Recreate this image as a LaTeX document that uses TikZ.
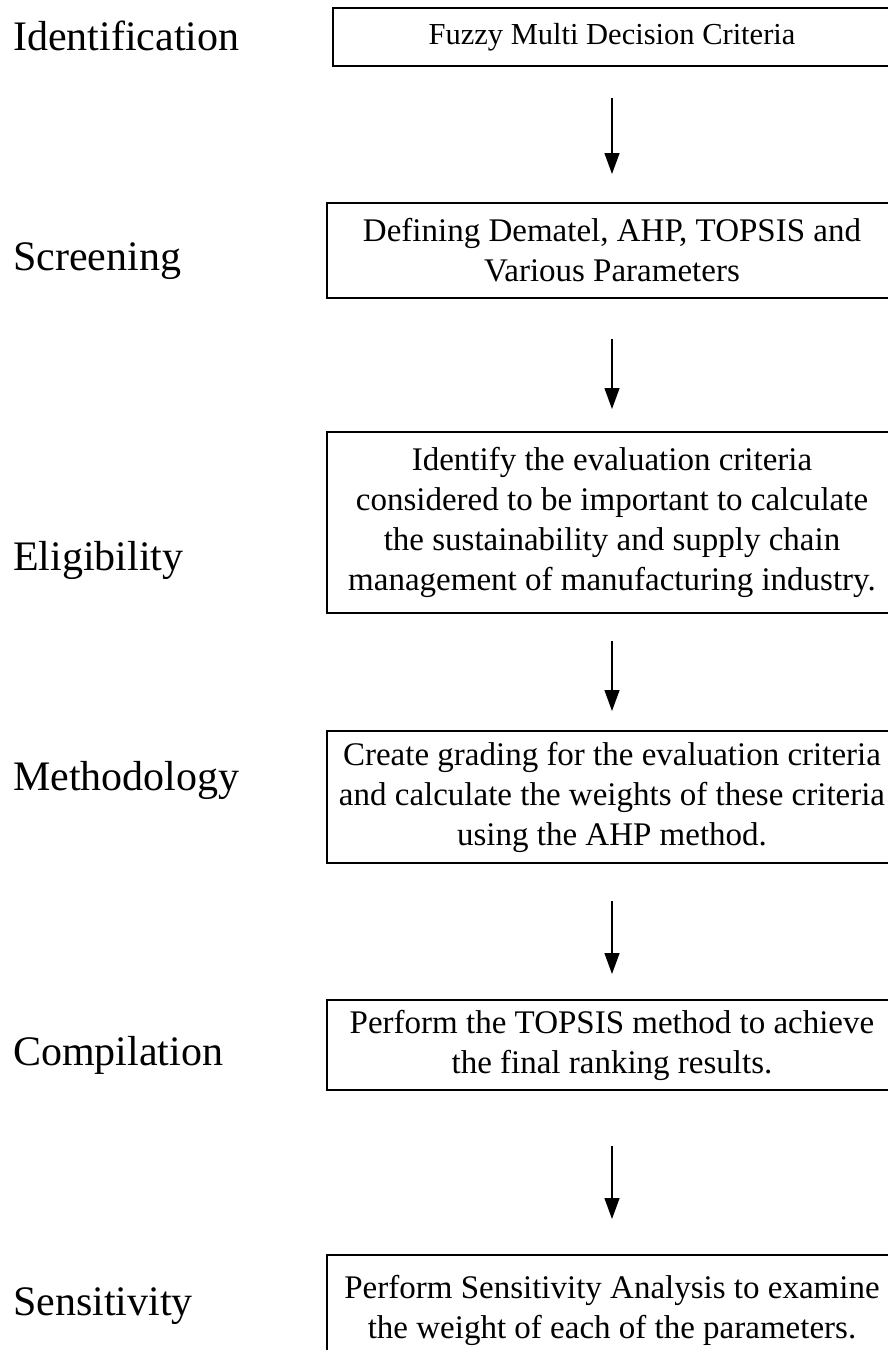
\documentclass[tikz,border=0pt]{standalone}
\usepackage{fontspec}
\setmainfont{Liberation Serif}
\usetikzlibrary{arrows.meta}
\begin{document}
\begin{tikzpicture}[x=1pt,y=-1pt,
  stepbox/.style={draw, line width=2pt, align=center, font=\fontsize{33}{40}\selectfont, inner sep=0pt},
  widebox/.style={stepbox, minimum width=570pt},
  stage/.style={anchor=base west, font=\fontsize{42}{50}\selectfont, inner sep=0pt},
  arr/.style={-{Triangle[width=15pt,length=21pt]}, line width=1.3pt}]
\useasboundingbox (0,0) rectangle (887,1350);

\node[stepbox, minimum width=558pt, minimum height=58pt, font=\fontsize{30.5}{36}\selectfont] (b1) at (612,37) {\raisebox{-3pt}{Fuzzy Multi Decision Criteria}};
\node[widebox, minimum height=95pt] (b2) at (612,250.5) {Defining Dematel, AHP, TOPSIS and\\Various Parameters};
\node[widebox, minimum height=181pt] (b3) at (612,522.5) {Identify the evaluation criteria\\considered to be important to calculate\\the sustainability and supply chain\\management of manufacturing industry.};
\node[widebox, minimum height=132pt] (b4) at (612,797) {Create grading for the evaluation criteria\\and calculate the weights of these criteria\\using the AHP method.};
\node[widebox, minimum height=90pt] (b5) at (612,1045) {Perform the TOPSIS method to achieve\\the final ranking results.};
\node[widebox, minimum height=110pt] (b6) at (612,1310) {Perform Sensitivity Analysis to examine\\the weight of each of the parameters.};

\node[stage] (l1) at (13,50) {Identification};
\node[stage] (l2) at (13,270) {Screening};
\node[stage] (l3) at (13,570) {Eligibility};
\node[stage] (l4) at (13,790) {Methodology};
\node[stage] (l5) at (13,1065) {Compilation};
\node[stage] (l6) at (13,1315) {Sensitivity};

\draw[arr, shorten <=31pt, shorten >=28pt] (b1) -- (b2);
\draw[arr, shorten <=40pt, shorten >=22pt] (b2) -- (b3);
\draw[arr, shorten <=27pt, shorten >=19pt] (b3) -- (b4);
\draw[arr, shorten <=37pt, shorten >=25pt] (b4) -- (b5);
\draw[arr, shorten <=55pt, shorten >=35pt] (b5) -- (b6);
\end{tikzpicture}
\end{document}
